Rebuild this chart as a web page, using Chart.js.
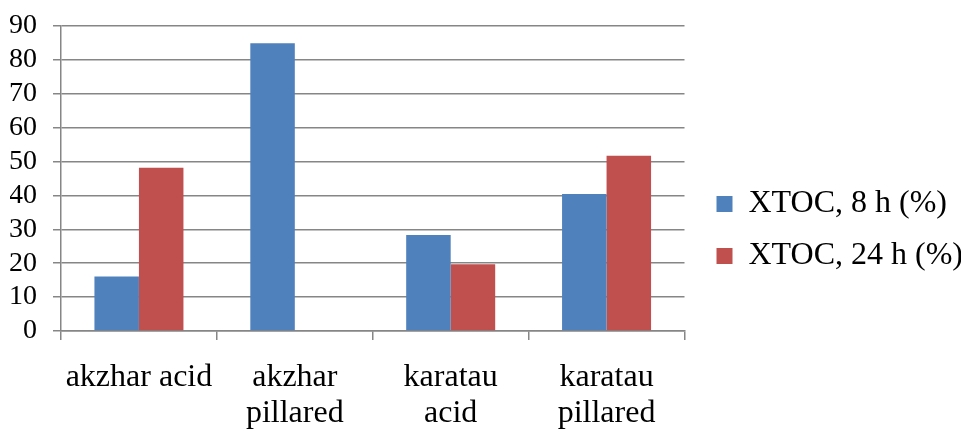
<!DOCTYPE html>
<html>
<head>
<meta charset="utf-8">
<script src="https://cdn.jsdelivr.net/npm/chart.js@4"></script>
<style>
    html, body { margin: 0; padding: 0; background: #ffffff; }
    #wrap { width: 961px; height: 430px; position: relative; }
</style>
</head>
<body>
<div id="wrap"><canvas id="xtocChart"></canvas></div>
<script>
const categories = [['akzhar acid'], ['akzhar', 'pillared'], ['karatau', 'acid'], ['karatau', 'pillared']];
const seriesNames = ['XTOC, 8 h (%)', 'XTOC, 24 h (%)'];
const xtoc8h = [16.1, 84.9, 28.3, 40.4];
const xtoc24h = [48.2, null, 19.7, 51.7];
const seriesColors = ['#4F81BD', '#C0504D'];

const axisGray = '#868686';
const fontFamily = '"Liberation Serif", "Times New Roman", serif';

// nudge the legend so it sits where the original has it
const legendShift = {
    id: 'legendShift',
    beforeDraw(chart, args, opts) {
        const lg = chart.legend;
        if (!lg || lg._shifted) return;
        lg.left += opts.dx; lg.right += opts.dx;
        lg.top += opts.dy; lg.bottom += opts.dy;
        lg._shifted = true;
    }
};

const ctx = document.getElementById('xtocChart').getContext('2d');
new Chart(ctx, {
    type: 'bar',
    data: {
        labels: categories,
        datasets: [
            {
                label: seriesNames[0],
                data: xtoc8h,
                backgroundColor: seriesColors[0],
                categoryPercentage: 0.571,
                barPercentage: 1.0
            },
            {
                label: seriesNames[1],
                data: xtoc24h,
                backgroundColor: seriesColors[1],
                categoryPercentage: 0.571,
                barPercentage: 1.0
            }
        ]
    },
    plugins: [legendShift],
    options: {
        responsive: true,
        maintainAspectRatio: false,
        animation: false,
        layout: {
            padding: { left: 10, top: 26, right: 0, bottom: 0 }
        },
        plugins: {
            legend: {
                position: 'right',
                maxWidth: 279,
                labels: {
                    boxWidth: 16,
                    boxHeight: 16,
                    padding: 20,
                    color: '#000000',
                    font: { family: fontFamily, size: 32 }
                }
            },
            tooltip: { enabled: false },
            legendShift: { dx: 12, dy: 2 }
        },
        scales: {
            x: {
                afterFit(scale) {
                    scale.height = 99;
                },
                grid: {
                    display: true,
                    drawOnChartArea: false,
                    offset: true,
                    tickLength: 9,
                    color: axisGray,
                    lineWidth: 1.5
                },
                border: { color: axisGray, width: 1.5 },
                ticks: {
                    color: '#000000',
                    padding: 20,
                    maxRotation: 0,
                    autoSkip: false,
                    font: { family: fontFamily, size: 32, lineHeight: 1.125 }
                }
            },
            y: {
                min: 0,
                max: 90,
                afterFit(scale) {
                    scale.width = 51;
                    scale.paddingTop = 0;
                },
                ticks: {
                    stepSize: 10,
                    autoSkip: false,
                    color: '#000000',
                    padding: 16,
                    font: { family: fontFamily, size: 28 }
                },
                grid: {
                    color: axisGray,
                    lineWidth: 1.5,
                    tickLength: 8
                },
                border: { color: axisGray, width: 1.5 }
            }
        }
    }
});
</script>
</body>
</html>
